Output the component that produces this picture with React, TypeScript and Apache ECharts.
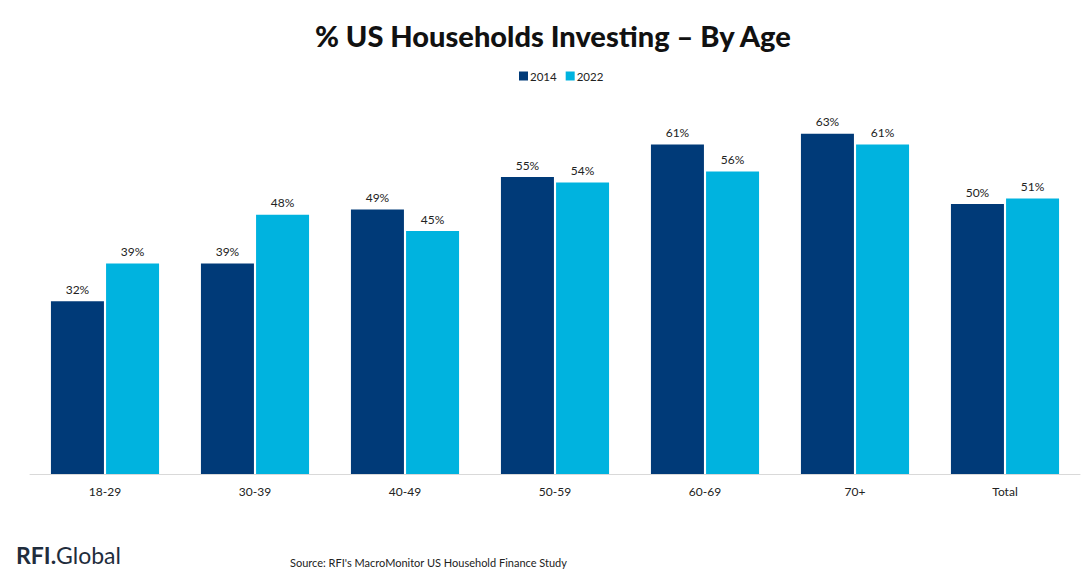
import React, { useEffect, useRef } from "react";
import * as echarts from "echarts";

const categories = ["18-29", "30-39", "40-49", "50-59", "60-69", "70+", "Total"];
const values2014 = [32, 39, 49, 55, 61, 63, 50];
const values2022 = [39, 48, 45, 54, 56, 61, 51];
const seriesNames = ["2014", "2022"];

export default function App() {
  const ref = useRef<HTMLDivElement>(null);
  useEffect(() => {
    document.body.style.margin = "0";
    const chart = echarts.init(ref.current!, null, { renderer: "svg" });
    const font = "Lato, 'Open Sans', sans-serif";
    const label = {
      show: true,
      position: "top",
      distance: 6,
      formatter: "{c}%",
      color: "#222",
      fontSize: 12,
      fontFamily: font,
    };
    chart.setOption({
      animation: false,
      backgroundColor: "#fff",
      title: {
        text: "% US Households Investing – By Age",
        left: 310,
        top: 16,
        textStyle: { fontFamily: font, fontWeight: 900, fontSize: 29, color: "#111" },
      },
      legend: {
        data: seriesNames,
        top: 65,
        left: 514,
        itemWidth: 9,
        itemHeight: 9,
        itemGap: 9,
        icon: "rect",
        textStyle: { fontFamily: font, fontSize: 11.5, color: "#222", padding: [0, 0, 0, -3] },
      },
      grid: { left: 30, right: 2, top: 96, bottom: 106 },
      xAxis: {
        type: "category",
        data: categories,
        axisLine: { lineStyle: { color: "#d9d9d9", width: 1 } },
        axisTick: { show: false },
        axisLabel: { fontFamily: font, fontSize: 12, color: "#222", margin: 11 },
      },
      yAxis: { type: "value", min: 0, max: 70, show: false, splitLine: { show: false } },
      series: [
        {
          name: seriesNames[0],
          type: "bar",
          data: values2014,
          barWidth: 53,
          barGap: "4%",
          itemStyle: { color: "#003A78" },
          label,
        },
        {
          name: seriesNames[1],
          type: "bar",
          data: values2022,
          barWidth: 53,
          barGap: "4%",
          itemStyle: { color: "#00B3DF" },
          label,
        },
      ],
      graphic: [
        {
          type: "text",
          left: 16,
          top: 543,
          style: {
            text: "{b|RFI.}{r|Global}",
            rich: {
              b: { fontFamily: font, fontWeight: "bold", fontSize: 23, fill: "#1F2D3D" },
              r: { fontFamily: font, fontWeight: "normal", fontSize: 23, fill: "#1F2D3D" },
            },
          },
        },
        {
          type: "text",
          left: 290,
          top: 557,
          style: {
            text: "Source: RFI's MacroMonitor US Household Finance Study",
            fontFamily: font,
            fontSize: 11,
            fill: "#222",
          },
        },
      ],
    });
    return () => chart.dispose();
  }, []);
  return <div ref={ref} style={{ position: "fixed", left: 0, top: 0, width: 1082, height: 580 }} />;
}
